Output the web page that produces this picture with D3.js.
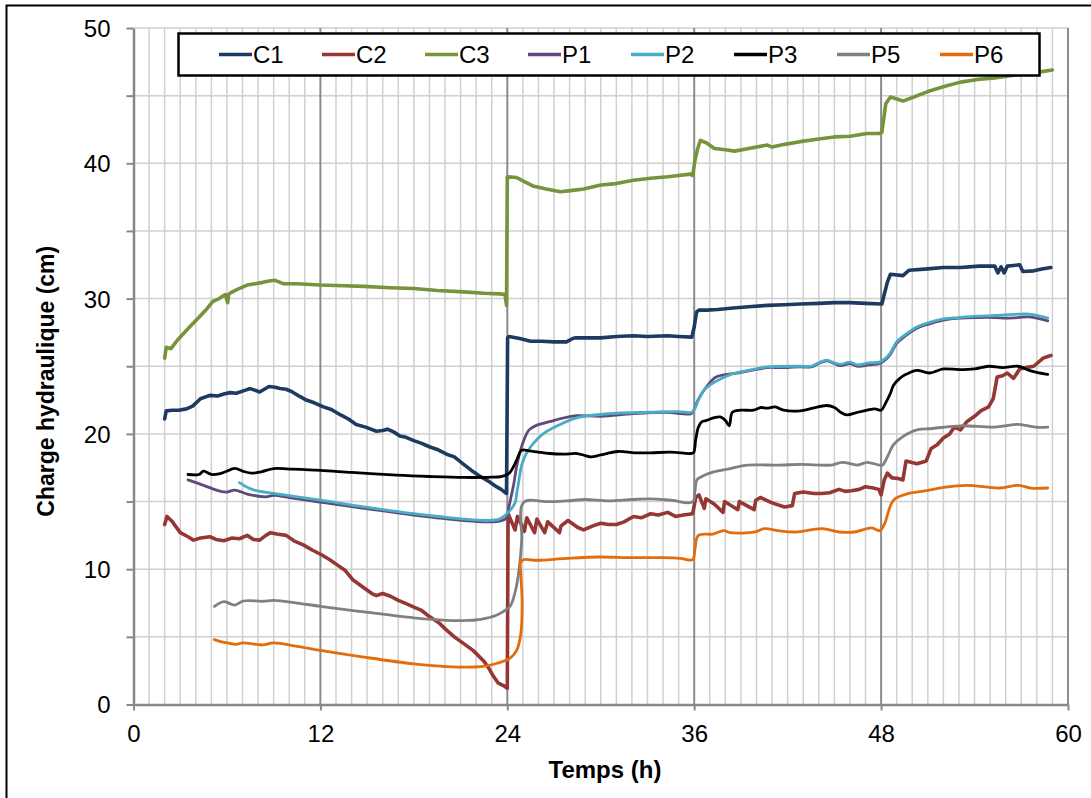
<!DOCTYPE html>
<html>
<head>
<meta charset="utf-8">
<script src="https://cdn.jsdelivr.net/npm/d3@7"></script>
<style>
  html, body { margin: 0; padding: 0; background: #fff; }
  svg { display: block; font-family: "Liberation Sans", Arial, sans-serif; }
</style>
</head>
<body>
<svg id="chart" width="1091" height="798"></svg>
<script>
// Hydraulic head readings (cm) against time (h), [time, head] pairs per sensor
const C1 = [[2.0,21.1],[2.1,21.7],[2.5,21.75],[2.9,21.75],[3.4,21.85],[3.8,22.05],[4.3,22.6],[4.9,22.85],[5.4,22.8],[5.8,22.95],[6.2,23.05],[6.6,23.0],[7.1,23.2],[7.5,23.35],[8.1,23.1],[8.4,23.3],[8.7,23.5],[9.1,23.45],[9.4,23.35],[9.8,23.3],[10.2,23.1],[10.7,22.75],[11.1,22.5],[11.6,22.3],[12.2,22.0],[12.7,21.8],[13.3,21.4],[13.8,21.1],[14.3,20.7],[14.9,20.5],[15.6,20.2],[16.0,20.25],[16.3,20.35],[16.7,20.15],[17.1,19.85],[17.5,19.75],[18.0,19.5],[18.5,19.3],[19.0,19.05],[19.5,18.85],[20.1,18.5],[20.6,18.3],[21.2,17.75],[21.7,17.3],[22.2,16.9],[22.8,16.5],[23.3,16.1],[23.6,15.9],[23.95,15.6],[24.02,27.1],[24.1,27.2],[24.8,27.05],[25.5,26.85],[26.2,26.85],[27.0,26.8],[27.8,26.8],[28.2,27.05],[28.4,27.1],[29.0,27.1],[30.0,27.1],[31.0,27.2],[32.1,27.25],[33.0,27.2],[34.3,27.25],[35.0,27.2],[35.85,27.15],[36.0,27.9],[36.15,29.0],[36.3,29.15],[36.8,29.15],[37.5,29.2],[38.5,29.3],[39.5,29.4],[40.7,29.5],[41.8,29.55],[42.8,29.6],[44.0,29.65],[45.0,29.7],[46.0,29.7],[47.0,29.65],[48.05,29.6],[48.2,30.3],[48.4,31.2],[48.6,31.8],[49.4,31.7],[49.8,32.1],[51.0,32.2],[52.0,32.3],[53.1,32.3],[54.3,32.4],[55.3,32.4],[55.5,31.9],[55.7,32.35],[55.9,31.9],[56.1,32.4],[56.5,32.45],[56.9,32.5],[57.1,32.0],[57.8,32.05],[58.4,32.2],[58.9,32.3]];

const C2 = [[2.0,13.3],[2.15,13.9],[2.5,13.5],[3.0,12.7],[3.5,12.4],[3.85,12.15],[4.3,12.3],[4.9,12.4],[5.3,12.2],[5.8,12.1],[6.3,12.3],[6.8,12.25],[7.3,12.5],[7.7,12.2],[8.1,12.15],[8.5,12.5],[8.8,12.7],[9.2,12.6],[9.8,12.5],[10.3,12.1],[10.9,11.8],[11.5,11.4],[12.1,11.05],[12.6,10.7],[13.1,10.3],[13.6,9.9],[14.1,9.2],[14.7,8.7],[15.3,8.2],[15.6,8.05],[16.0,8.2],[16.5,8.0],[17.0,7.7],[17.5,7.45],[18.0,7.2],[18.5,6.95],[19.0,6.5],[19.6,6.05],[20.1,5.5],[20.6,5.0],[21.2,4.5],[21.8,4.0],[22.5,3.2],[22.8,2.7],[23.1,2.1],[23.4,1.6],[23.75,1.4],[24.0,1.2],[24.05,14.1],[24.5,12.9],[24.65,13.9],[25.1,12.8],[25.25,13.8],[25.75,12.7],[25.9,13.7],[26.4,12.7],[26.6,13.5],[27.35,12.7],[27.45,13.2],[27.9,13.6],[28.5,13.1],[28.9,12.9],[29.5,13.2],[30.0,13.4],[30.5,13.3],[31.0,13.3],[31.5,13.5],[32.1,13.9],[32.6,13.8],[33.2,14.1],[33.7,14.0],[34.3,14.2],[34.8,13.9],[35.3,14.0],[35.9,14.1],[36.1,15.3],[36.3,15.5],[36.65,14.5],[36.75,15.2],[37.3,14.8],[37.85,14.2],[37.95,15.0],[38.8,14.4],[38.9,15.0],[39.85,14.4],[39.95,15.1],[40.25,15.3],[41.0,14.9],[41.8,14.6],[42.3,14.7],[42.45,15.6],[43.0,15.7],[43.7,15.6],[44.2,15.6],[44.7,15.65],[45.3,15.9],[45.7,15.75],[46.1,15.8],[46.6,15.9],[47.0,16.1],[47.5,16.0],[47.85,15.9],[48.0,15.5],[48.2,16.6],[48.4,17.1],[48.7,16.75],[49.1,16.7],[49.4,16.6],[49.6,18.0],[50.3,17.8],[50.9,18.0],[51.2,18.9],[51.6,19.2],[52.0,19.7],[52.4,20.0],[52.7,20.5],[53.1,20.3],[53.5,20.9],[54.0,21.3],[54.4,21.7],[54.9,22.0],[55.2,22.6],[55.45,24.2],[55.8,24.3],[56.1,24.5],[56.5,24.1],[56.9,24.8],[57.3,24.9],[57.8,25.0],[58.4,25.6],[58.9,25.8]];

const C3 = [[2.0,25.6],[2.1,26.4],[2.4,26.3],[2.8,26.9],[3.2,27.4],[3.6,27.9],[4.1,28.5],[4.6,29.1],[5.1,29.8],[5.5,30.0],[5.9,30.3],[6.05,29.7],[6.1,30.3],[6.2,30.4],[6.7,30.7],[7.3,31.0],[7.8,31.1],[8.3,31.2],[8.7,31.3],[9.1,31.35],[9.6,31.1],[10.5,31.1],[12.0,31.0],[13.5,30.95],[14.8,30.9],[16.5,30.8],[18.0,30.75],[19.5,30.6],[21.2,30.5],[22.5,30.4],[23.5,30.35],[23.85,30.3],[23.95,29.5],[24.0,39.0],[24.6,38.95],[25.0,38.7],[25.7,38.3],[26.5,38.1],[27.4,37.9],[28.2,38.0],[28.9,38.1],[30.0,38.4],[31.0,38.5],[32.1,38.75],[33.2,38.9],[34.3,39.0],[35.0,39.1],[35.75,39.2],[35.9,39.1],[36.05,40.2],[36.2,41.0],[36.4,41.7],[36.8,41.5],[37.3,41.1],[38.0,41.0],[38.6,40.9],[39.5,41.1],[40.7,41.35],[41.0,41.2],[41.8,41.4],[42.8,41.6],[44.0,41.8],[45.0,41.95],[46.0,42.0],[47.1,42.2],[47.9,42.2],[48.05,42.3],[48.3,44.4],[48.6,44.9],[49.4,44.6],[50.1,44.9],[51.0,45.3],[52.1,45.7],[53.1,46.0],[54.2,46.2],[55.3,46.3],[56.4,46.5],[57.9,46.7],[59.0,46.9]];

const P1 = [[3.5,16.6],[4.5,16.2],[5.6,15.75],[6.0,15.7],[6.5,15.85],[7.3,15.55],[8.5,15.35],[9.0,15.45],[10.0,15.3],[12.0,14.95],[14.8,14.5],[18.0,14.0],[21.2,13.6],[22.7,13.5],[23.5,13.55],[23.95,13.8],[24.1,14.6],[24.4,16.2],[24.6,17.6],[24.85,18.8],[25.05,19.5],[25.4,20.3],[25.9,20.65],[26.7,20.9],[27.5,21.15],[28.5,21.35],[30.0,21.3],[32.1,21.5],[34.2,21.6],[35.8,21.5],[36.0,21.8],[36.2,22.4],[36.5,23.0],[36.8,23.5],[37.4,24.2],[38.5,24.45],[39.5,24.65],[40.7,24.9],[41.5,24.9],[42.8,24.95],[43.5,24.95],[44.0,25.2],[44.5,25.4],[45.0,25.2],[45.4,25.05],[46.0,25.2],[46.5,25.0],[47.2,25.1],[47.9,25.2],[48.3,25.5],[48.6,25.9],[49.0,26.7],[49.4,27.1],[50.3,27.8],[51.0,28.1],[52.0,28.4],[53.0,28.55],[54.2,28.6],[55.3,28.6],[56.0,28.55],[56.8,28.6],[57.5,28.65],[58.2,28.5],[58.7,28.35]];

const P2 = [[6.8,16.4],[7.4,16.0],[7.9,15.8],[9.0,15.6],[10.5,15.35],[12.0,15.1],[14.8,14.6],[18.0,14.1],[21.2,13.7],[22.7,13.6],[23.5,13.7],[23.97,14.1],[24.5,14.9],[24.6,15.6],[24.71,16.3],[24.85,17.3],[24.95,17.8],[25.2,18.5],[25.5,19.05],[26.3,20.0],[27.4,20.7],[28.5,21.2],[30.6,21.5],[33.2,21.6],[35.0,21.65],[35.85,21.6],[36.05,21.9],[36.3,22.6],[36.6,23.2],[37.0,23.6],[37.5,23.95],[38.5,24.45],[39.5,24.7],[40.7,24.95],[42.8,25.0],[43.5,25.0],[44.0,25.25],[44.5,25.45],[45.0,25.25],[45.4,25.15],[46.0,25.3],[46.5,25.1],[47.2,25.25],[47.9,25.3],[48.3,25.6],[48.6,26.0],[49.0,26.8],[49.4,27.2],[50.3,27.9],[51.0,28.2],[52.0,28.5],[53.0,28.6],[54.2,28.7],[55.3,28.75],[56.0,28.8],[56.8,28.85],[57.5,28.85],[58.2,28.7],[58.7,28.55]];

const P3 = [[3.5,17.0],[4.2,17.0],[4.5,17.25],[5.0,17.0],[5.5,17.05],[5.9,17.2],[6.5,17.45],[7.0,17.25],[7.6,17.1],[8.2,17.2],[9.0,17.44],[10.0,17.4],[12.0,17.3],[14.0,17.15],[16.9,16.95],[19.0,16.85],[21.2,16.78],[23.0,16.8],[23.6,16.85],[24.0,17.0],[24.2,17.2],[24.45,17.7],[24.65,18.2],[24.93,18.8],[25.4,18.75],[26.0,18.65],[26.7,18.55],[27.6,18.5],[28.5,18.55],[29.0,18.4],[29.4,18.3],[30.0,18.45],[31.1,18.7],[32.2,18.6],[33.2,18.6],[34.5,18.65],[35.7,18.55],[35.95,18.6],[36.1,19.6],[36.27,20.5],[36.5,20.9],[36.8,21.0],[37.3,21.2],[37.67,21.25],[38.0,21.0],[38.25,20.6],[38.45,21.6],[39.0,21.75],[39.8,21.75],[40.3,21.95],[40.67,21.9],[41.2,22.0],[41.75,21.75],[42.8,21.7],[43.6,21.9],[44.5,22.1],[45.0,21.95],[45.4,21.6],[45.8,21.4],[46.5,21.6],[47.1,21.75],[47.6,21.85],[48.0,21.75],[48.3,22.3],[48.6,23.0],[48.8,23.6],[49.2,24.1],[49.6,24.4],[50.3,24.7],[51.1,24.5],[52.0,24.8],[53.0,24.75],[54.0,24.8],[54.9,25.0],[55.8,24.9],[56.8,25.0],[57.5,24.7],[58.0,24.55],[58.7,24.4]];

const P5 = [[5.2,7.25],[5.8,7.6],[6.5,7.35],[7.05,7.65],[8.3,7.63],[9.0,7.7],[10.5,7.5],[12.0,7.26],[14.8,6.84],[18.0,6.4],[20.1,6.22],[21.5,6.22],[22.3,6.3],[23.3,6.6],[23.9,7.0],[24.2,7.3],[24.5,8.3],[24.7,9.5],[24.85,11.0],[24.93,12.5],[24.85,13.8],[24.9,14.6],[25.1,15.0],[25.5,15.1],[26.5,15.0],[27.8,15.05],[29.0,15.15],[30.5,15.05],[32.0,15.15],[33.2,15.2],[34.5,15.1],[35.9,14.97],[36.05,15.8],[36.17,16.6],[36.4,16.8],[37.24,17.19],[38.3,17.44],[39.4,17.69],[41.5,17.69],[42.8,17.75],[44.8,17.7],[45.5,17.9],[46.5,17.7],[47.1,17.9],[47.9,17.69],[48.1,17.7],[48.4,18.3],[48.8,19.2],[49.4,19.8],[50.3,20.3],[51.3,20.4],[53.1,20.6],[55.3,20.5],[56.8,20.7],[57.9,20.5],[58.7,20.5]];

const P6 = [[5.2,4.8],[5.8,4.6],[6.6,4.45],[7.0,4.55],[8.3,4.4],[9.0,4.55],[10.5,4.3],[12.0,4.0],[14.8,3.5],[18.0,3.0],[20.1,2.8],[22.3,2.8],[23.3,3.03],[24.2,3.45],[24.6,4.0],[24.87,5.25],[24.95,7.7],[24.85,9.9],[24.85,10.5],[25.04,10.7],[25.9,10.66],[27.8,10.8],[29.9,10.9],[32.0,10.85],[34.0,10.85],[35.1,10.8],[35.9,10.7],[36.05,11.5],[36.27,12.5],[37.2,12.6],[37.9,12.85],[38.3,12.7],[39.9,12.75],[40.5,13.0],[41.4,12.85],[42.5,12.75],[44.2,13.0],[45.3,12.75],[46.3,12.75],[47.4,13.05],[47.9,12.85],[48.2,13.3],[48.8,15.1],[49.8,15.6],[50.9,15.8],[52.0,16.05],[53.5,16.2],[55.6,16.0],[56.8,16.2],[57.6,16.0],[58.7,16.0]];

const seriesNames = ["C1", "C2", "C3", "P1", "P2", "P3", "P5", "P6"];
const seriesData = [C1, C2, C3, P1, P2, P3, P5, P6];
const seriesColors = ["#1F3A60", "#953735", "#77933C", "#604A7B", "#4BACC6", "#000000", "#808080", "#E46C0A"];
const xTicks = [0, 12, 24, 36, 48, 60];
const yTicks = [0, 10, 20, 30, 40, 50];
const xTitle = "Temps (h)";
const yTitle = "Charge hydraulique (cm)";

const svg = d3.select("#chart");
const plot = { left: 133.5, right: 1068, top: 28, bottom: 704.5 };

const x = d3.scaleLinear().domain([0, 60]).range([plot.left, plot.right]);
const y = d3.scaleLinear().domain([0, 50]).range([plot.bottom, plot.top]);

// outer frame
svg.append("rect").attr("x", 6.5).attr("y", 5.5).attr("width", 1110).attr("height", 820)
  .attr("fill", "#fff").attr("stroke", "#000").attr("stroke-width", 2);

// light grid: every hour and every 5 cm
const grid = svg.append("g");
grid.selectAll("line.vminor").data(d3.range(1, 60).filter(h => h % 12 !== 0)).join("line")
  .attr("x1", d => x(d)).attr("x2", d => x(d)).attr("y1", plot.top).attr("y2", plot.bottom)
  .attr("stroke", "#D0D0D0").attr("stroke-width", 1.5);
grid.selectAll("line.h").data(d3.range(5, 51, 5)).join("line")
  .attr("x1", plot.left).attr("x2", plot.right).attr("y1", d => y(d)).attr("y2", d => y(d))
  .attr("stroke", "#D0D0D0").attr("stroke-width", 1.5);
// darker grid every 12 h
grid.selectAll("line.vmajor").data([12, 24, 36, 48, 60]).join("line")
  .attr("x1", d => x(d)).attr("x2", d => x(d)).attr("y1", plot.top).attr("y2", plot.bottom)
  .attr("stroke", "#8C8C8C").attr("stroke-width", 2);

// axes
const axisColor = "#888888";
const xAxis = svg.append("g").attr("transform", `translate(0,${plot.bottom})`)
  .call(d3.axisBottom(x).tickValues(xTicks).tickSize(6).tickSizeOuter(0).tickFormat(d3.format("d")));
const yAxis = svg.append("g").attr("transform", `translate(${plot.left},0)`)
  .call(d3.axisLeft(y).tickValues(d3.range(0, 51, 5)).tickSize(7).tickSizeOuter(0)
    .tickFormat(d => yTicks.includes(d) ? d : ""));
[xAxis, yAxis].forEach(a => {
  a.select(".domain").attr("stroke", axisColor).attr("stroke-width", 2.5);
  a.selectAll(".tick line").attr("stroke", axisColor).attr("stroke-width", 2);
  a.selectAll(".tick text").attr("fill", "#000").attr("font-size", 24)
    .attr("font-family", "Liberation Sans, Arial, sans-serif");
});
xAxis.selectAll(".tick text").attr("y", 20).attr("dy", "0.71em");
yAxis.selectAll(".tick text").attr("x", -23).attr("dy", "0.35em");

// series
const line = d3.line().x(d => x(d[0])).y(d => y(d[1]));
const smooth = d3.line().x(d => x(d[0])).y(d => y(d[1])).curve(d3.curveCatmullRom.alpha(0.5));
const lines = svg.append("g").attr("fill", "none").attr("stroke-linejoin", "round").attr("stroke-linecap", "round");
seriesData.forEach((data, i) => {
  const isC = seriesNames[i].startsWith("C");
  lines.append("path").datum(data)
    .attr("d", isC ? line : smooth)
    .attr("stroke", seriesColors[i])
    .attr("stroke-width", isC ? 3.6 : 2.8);
});

// axis titles
svg.append("text").attr("x", 605).attr("y", 778)
  .attr("text-anchor", "middle").attr("font-weight", "bold").attr("font-size", 24)
  .text(xTitle);
svg.append("text").attr("transform", `translate(54,${(plot.top + plot.bottom) / 2 + 15}) rotate(-90)`)
  .attr("text-anchor", "middle").attr("font-weight", "bold").attr("font-size", 23)
  .text(yTitle);

// legend
const legend = svg.append("g");
legend.append("rect").attr("x", 178.5).attr("y", 33.5).attr("width", 861).attr("height", 42)
  .attr("fill", "#fff").attr("stroke", "#000").attr("stroke-width", 2.5);
seriesNames.forEach((name, i) => {
  const x0 = 219 + i * 103;
  legend.append("line").attr("x1", x0).attr("x2", x0 + 33).attr("y1", 54.5).attr("y2", 54.5)
    .attr("stroke", seriesColors[i]).attr("stroke-width", 3.5);
  legend.append("text").attr("x", x0 + 34).attr("y", 54.5).attr("dy", "0.35em")
    .attr("font-size", 24).text(name);
});
</script>
</body>
</html>
